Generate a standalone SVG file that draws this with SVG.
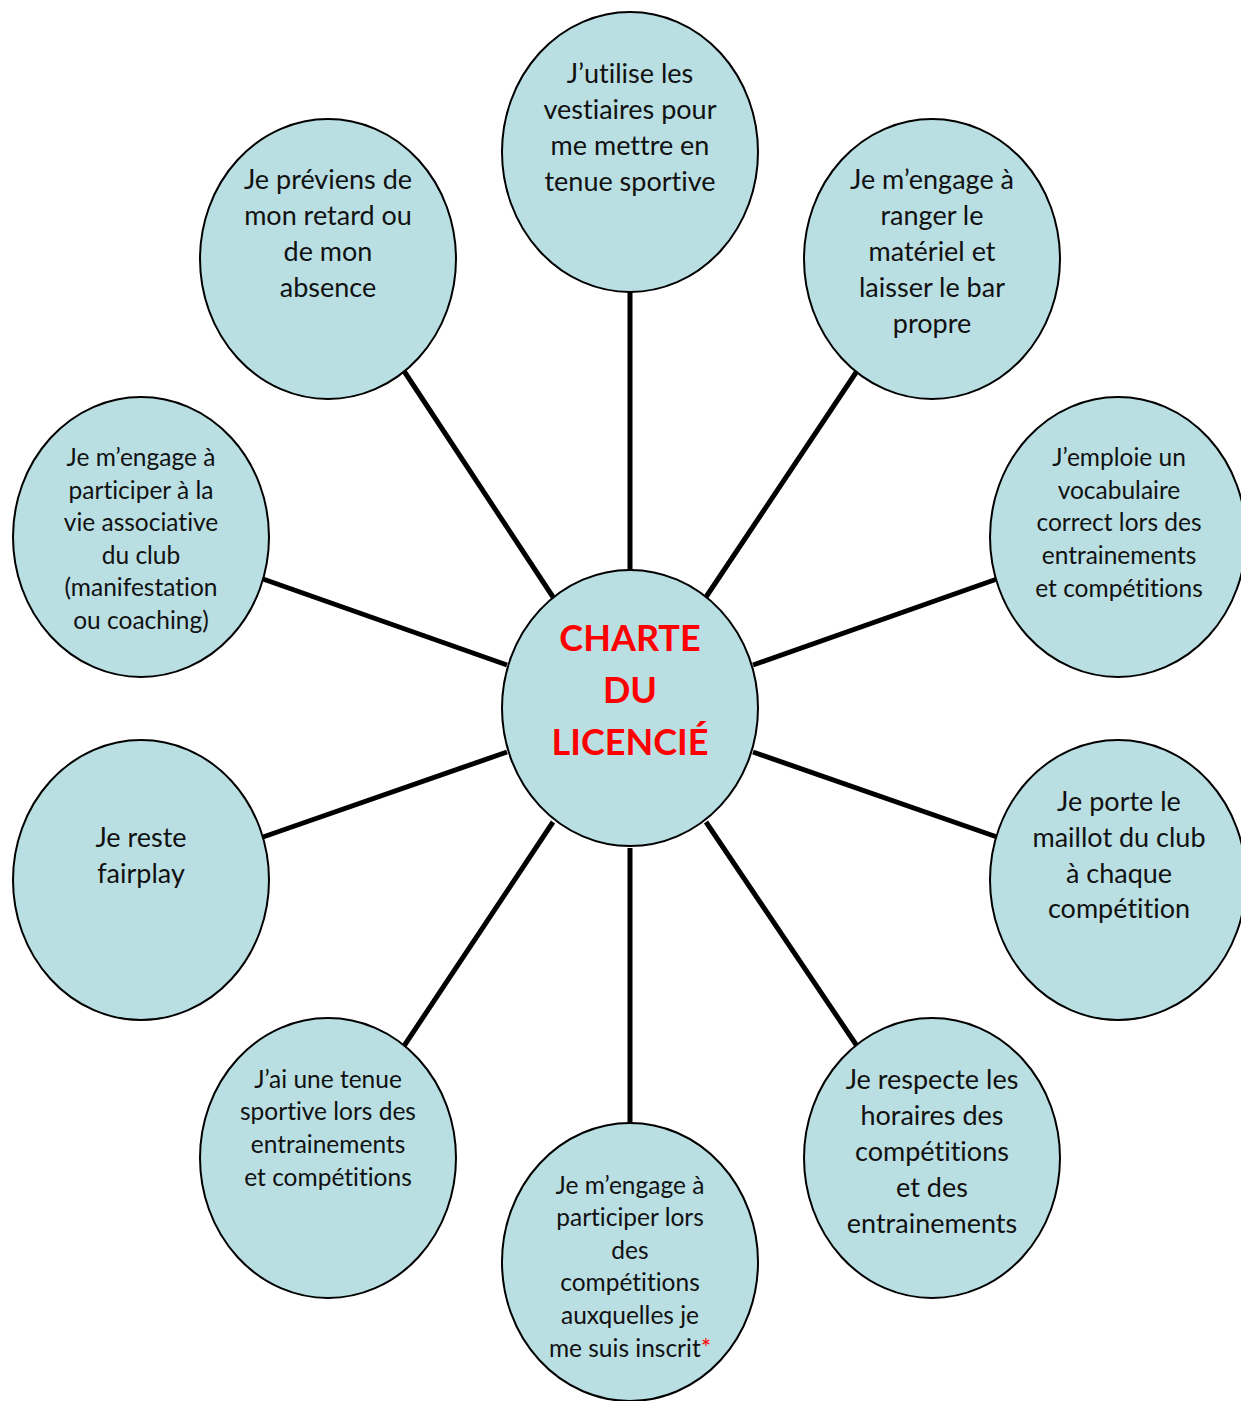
<svg xmlns="http://www.w3.org/2000/svg" width="1241" height="1401" viewBox="0 0 1241 1401">
<style>
.n{fill:#B9DFE3;stroke:#000;stroke-width:2}
.c line{stroke:#000;stroke-width:5}
text{font-family:Lato,"Liberation Sans",sans-serif;fill:#111;text-anchor:middle;font-variant-ligatures:none}
.L{font-size:27px}
.S{font-size:24.5px}
.T{font-size:36px;font-weight:bold;fill:#FF0000}
.r{fill:#FF0000}
</style>
<rect width="1241" height="1401" fill="#fff"/>
<g class="c" id="connectors">
<line x1="630" y1="292" x2="630" y2="570"/>
<line x1="706" y1="597" x2="857" y2="371"/>
<line x1="753" y1="665" x2="997" y2="579"/>
<line x1="753" y1="752" x2="997" y2="837"/>
<line x1="706" y1="822" x2="857" y2="1046"/>
<line x1="630" y1="848" x2="630" y2="1124"/>
<line x1="553" y1="822" x2="404" y2="1046"/>
<line x1="507" y1="752" x2="263" y2="837"/>
<line x1="507" y1="665" x2="263" y2="579"/>
<line x1="553" y1="597" x2="404" y2="371"/>
</g>
<g id="center"><ellipse class="n" cx="630" cy="708" rx="128" ry="138"/>
<text class="T" x="630" y="651">CHARTE</text><text class="T" x="630" y="703">DU</text><text class="T" x="630" y="755">LICENCIÉ</text></g>
<g id="n-top"><ellipse class="n" cx="630" cy="152" rx="128" ry="140"/>
<text class="L" x="630" y="83">J’utilise les</text><text class="L" x="630" y="119">vestiaires pour</text><text class="L" x="630" y="155">me mettre en</text><text class="L" x="630" y="191">tenue sportive</text></g>
<g id="n-topright"><ellipse class="n" cx="932" cy="259" rx="128" ry="140"/>
<text class="L" x="932" y="189">Je m’engage à</text><text class="L" x="932" y="225">ranger le</text><text class="L" x="932" y="261">matériel et</text><text class="L" x="932" y="297">laisser le bar</text><text class="L" x="932" y="333">propre</text></g>
<g id="n-right1"><ellipse class="n" cx="1118" cy="537" rx="128" ry="140"/>
<text class="S" x="1119" y="466">J’emploie un</text><text class="S" x="1119" y="499">vocabulaire</text><text class="S" x="1119" y="531">correct lors des</text><text class="S" x="1119" y="564">entrainements</text><text class="S" x="1119" y="597">et compétitions</text></g>
<g id="n-right2"><ellipse class="n" cx="1118" cy="880" rx="128" ry="140"/>
<text class="L" x="1119" y="811">Je porte le</text><text class="L" x="1119" y="847">maillot du club</text><text class="L" x="1119" y="883">à chaque</text><text class="L" x="1119" y="918">compétition</text></g>
<g id="n-bottomright"><ellipse class="n" cx="932" cy="1158" rx="128" ry="140"/>
<text class="L" x="932" y="1089">Je respecte les</text><text class="L" x="932" y="1125">horaires des</text><text class="L" x="932" y="1161">compétitions</text><text class="L" x="932" y="1197">et des</text><text class="L" x="932" y="1233">entrainements</text></g>
<g id="n-bottom"><ellipse class="n" cx="630" cy="1262" rx="128" ry="139"/>
<text class="S" x="630" y="1194">Je m’engage à</text><text class="S" x="630" y="1226">participer lors</text><text class="S" x="630" y="1259">des</text><text class="S" x="630" y="1291">compétitions</text><text class="S" x="630" y="1324">auxquelles je</text><text class="S" x="630" y="1357">me suis inscrit<tspan class="r">*</tspan></text></g>
<g id="n-bottomleft"><ellipse class="n" cx="328" cy="1158" rx="128" ry="140"/>
<text class="S" x="328" y="1088">J’ai une tenue</text><text class="S" x="328" y="1120">sportive lors des</text><text class="S" x="328" y="1153">entrainements</text><text class="S" x="328" y="1186">et compétitions</text></g>
<g id="n-left2"><ellipse class="n" cx="141" cy="880" rx="128" ry="140"/>
<text class="L" x="141" y="847">Je reste</text><text class="L" x="141" y="883">fairplay</text></g>
<g id="n-left1"><ellipse class="n" cx="141" cy="537" rx="128" ry="140"/>
<text class="S" x="141" y="466">Je m’engage à</text><text class="S" x="141" y="499">participer à la</text><text class="S" x="141" y="531">vie associative</text><text class="S" x="141" y="564">du club</text><text class="S" x="141" y="596">(manifestation</text><text class="S" x="141" y="629">ou coaching)</text></g>
<g id="n-topleft"><ellipse class="n" cx="328" cy="259" rx="128" ry="140"/>
<text class="L" x="328" y="189">Je préviens de</text><text class="L" x="328" y="225">mon retard ou</text><text class="L" x="328" y="261">de mon</text><text class="L" x="328" y="297">absence</text></g>
</svg>
